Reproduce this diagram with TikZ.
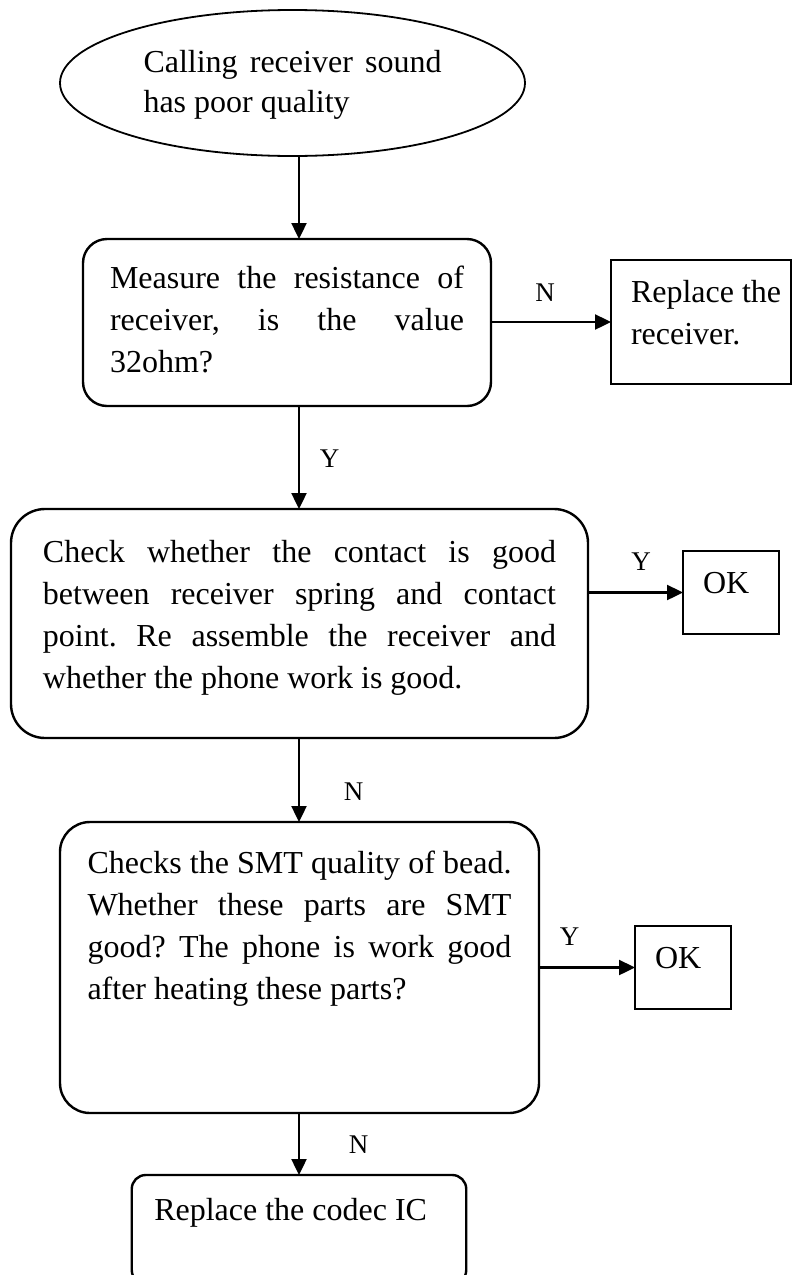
\documentclass[tikz,border=0pt]{standalone}
\usepackage{fontspec}
\setmainfont{Liberation Serif}
\usetikzlibrary{shapes.geometric,arrows.meta}
\frenchspacing
\newcommand\tb[6]{\hspace*{#1}\parbox[c][#4][t]{#2}{\rule{0pt}{#5}#6}\hspace*{#3}}
\newcommand\jl[1]{\makebox[\linewidth][s]{#1}}
\begin{document}
\begin{tikzpicture}[x=1pt,y=-1pt,
  every node/.style={inner sep=0pt, outer sep=0pt},
  txt/.style={font=\fontsize{32}{42}\selectfont},
  rbox/.style={txt, draw, line width=2.4pt, rounded corners=#1},
  sbox/.style={txt, draw, line width=2.4pt},
  arr/.style={line width=2.4pt, -{Triangle[length=16pt,width=15pt]}},
  lab/.style={font=\fontsize{27}{30}\selectfont, anchor=base},
]
\useasboundingbox (0,0) rectangle (793,1275);
\clip (0,0) rectangle (793,1275);
\coordinate (sp) at (299,0);

\node[ellipse, draw, line width=1.8pt, minimum width=465pt, minimum height=146pt, font=\fontsize{32}{40}\selectfont] (start) at (292.5,83)
  {\tb{0pt}{298pt}{0pt}{90pt}{34pt}{\jl{Calling receiver sound}\\has poor quality}};

\node[rbox=24pt] (q1) at (287,322.5)
  {\tb{27pt}{354pt}{27pt}{167pt}{49pt}{\jl{Measure the resistance of}\\\jl{receiver, is the value}\\32ohm?}};

\node[sbox] (rr) at (701,322)
  {\tb{20pt}{155pt}{5pt}{124pt}{42pt}{Replace the\\receiver.}};

\node[rbox=34pt] (q2) at (299.5,623.5)
  {\tb{32pt}{513pt}{32pt}{229pt}{53pt}{\jl{Check whether the contact is good}\\\jl{between receiver spring and contact}\\\jl{point. Re assemble the receiver and}\\whether the phone work is good.}};

\node[sbox] (ok1) at (731,592.5)
  {\tb{20pt}{50pt}{26pt}{83pt}{42pt}{OK}};

\node[rbox=30pt] (q3) at (299.5,967.5)
  {\tb{27.5pt}{424pt}{27.5pt}{291pt}{51pt}{\jl{Checks the SMT quality of bead.}\\\jl{Whether these parts are SMT}\\\jl{good? The phone is work good}\\after heating these parts?}};

\node[sbox] (ok2) at (683,967.5)
  {\tb{20pt}{50pt}{26pt}{83pt}{42pt}{OK}};

\node[rbox=14pt] (fix) at (299,1229.5)
  {\tb{22.5pt}{300pt}{12pt}{109pt}{45pt}{Replace the codec IC}};

\draw[arr] (start.south -| sp) -- (q1.north -| sp);
\draw[arr] (q1.east |- rr.west) -- node[lab, pos=0.45, yshift=21pt]{N} (rr.west);
\draw[arr] (q1.south -| sp) -- node[lab, pos=0.6, xshift=30.5pt]{Y} (q2.north -| sp);
\draw[arr] (q2.east |- ok1.west) -- node[lab, pos=0.56, yshift=22pt]{Y} (ok1.west);
\draw[arr] (q2.south -| sp) -- node[lab, pos=0.74, xshift=54.5pt]{N} (q3.north -| sp);
\draw[arr] (q3.east |- ok2.west) -- node[lab, pos=0.32, yshift=22.5pt]{Y} (ok2.west);
\draw[arr] (q3.south -| sp) -- node[lab, pos=0.65, xshift=59.5pt]{N} (fix.north -| sp);
\end{tikzpicture}
\end{document}
